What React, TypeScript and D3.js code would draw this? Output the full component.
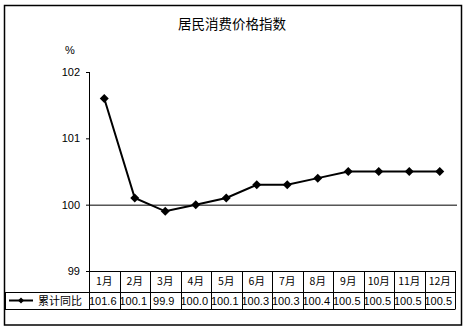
import React from "react";
import * as d3 from "d3";

const months = ["1月", "2月", "3月", "4月", "5月", "6月", "7月", "8月", "9月", "10月", "11月", "12月"];
const values = [101.6, 100.1, 99.9, 100.0, 100.1, 100.3, 100.3, 100.4, 100.5, 100.5, 100.5, 100.5];
const valueLabels = ["101.6", "100.1", "99.9", "100.0", "100.1", "100.3", "100.3", "100.4", "100.5", "100.5", "100.5", "100.5"];
const yTicks = [99, 100, 101, 102];
const seriesName = "累计同比";
const title = "居民消费价格指数";

const W = 467, H = 331;
const left = 89, right = 455, top = 72, bottom = 271;
const row1 = 292, row2 = 309;
const cjk = "'Noto Sans CJK SC', sans-serif";
const latin = "'Liberation Sans', Arial, sans-serif";

function diamond(cx: number, cy: number, r: number) {
  return `M${cx},${cy - r}L${cx + r},${cy}L${cx},${cy + r}L${cx - r},${cy}Z`;
}

export default function App() {
  const x = d3.scaleBand<string>().domain(months).range([left, right]);
  const y = d3.scaleLinear().domain([99, 102]).range([bottom, top]);
  const line = d3.line<number>()
    .x((_, i) => (x(months[i]) as number) + x.bandwidth() / 2)
    .y((d) => y(d));
  const bounds = months.map((m) => x(m) as number).concat([right]);

  return (
    <svg width={W} height={H} style={{ position: "absolute", left: 0, top: 0, background: "#fff" }}>
      <rect x={4.5} y={5.5} width={457} height={319.5} fill="#fff" stroke="#000" strokeWidth={1.5} />
      <text x={232} y={29} textAnchor="middle" fontFamily={cjk} fontSize={13.5} fill="#000">{title}</text>
      <text x={70} y={54} textAnchor="middle" fontFamily={latin} fontSize={11} fill="#000">%</text>
      {yTicks.map((t) => (
        <g key={t}>
          <line x1={left - 3} x2={left} y1={y(t) + 0.5} y2={y(t) + 0.5} stroke="#000" />
          <text x={80} y={y(t) + 4} textAnchor="end" fontFamily={latin} fontSize={11} fill="#000">{t}</text>
        </g>
      ))}
      {/* y axis */}
      <line x1={left + 0.5} x2={left + 0.5} y1={top} y2={row2} stroke="#000" />
      {/* category axis at 100 */}
      <line x1={left} x2={right + 2} y1={y(100) + 0.5} y2={y(100) + 0.5} stroke="#000" />
      {/* data table */}
      <line x1={left} x2={right + 0.5} y1={bottom + 0.5} y2={bottom + 0.5} stroke="#000" />
      <line x1={5} x2={right + 0.5} y1={row1 + 0.5} y2={row1 + 0.5} stroke="#000" />
      <line x1={5} x2={right + 0.5} y1={row2 + 0.5} y2={row2 + 0.5} stroke="#000" />
      <line x1={5.5} x2={5.5} y1={row1} y2={row2} stroke="#000" />
      {bounds.map((b, i) => (
        <line key={i} x1={Math.round(b) + 0.5} x2={Math.round(b) + 0.5} y1={bottom} y2={row2} stroke="#000" />
      ))}
      {months.map((m) => (
        <text key={m} x={(x(m) as number) + x.bandwidth() / 2} y={285} textAnchor="middle" fontFamily={cjk} fontSize={10.5} fill="#000">{m}</text>
      ))}
      {valueLabels.map((v, i) => (
        <text key={i} x={(x(months[i]) as number) + x.bandwidth() / 2 - 1.5} y={304.5} textAnchor="middle" fontFamily={latin} fontSize={11} fill="#000">{v}</text>
      ))}
      {/* legend key */}
      <line x1={9} x2={33} y1={300.5} y2={300.5} stroke="#000" strokeWidth={2} />
      <path d={diamond(21, 300.5, 3)} fill="#000" />
      <text x={38} y={304.5} fontFamily={cjk} fontSize={11} fill="#000">{seriesName}</text>
      {/* series */}
      <path d={line(values) || ""} fill="none" stroke="#000" strokeWidth={2} />
      {values.map((v, i) => (
        <path key={i} d={diamond((x(months[i]) as number) + x.bandwidth() / 2, y(v), 4.5)} fill="#000" />
      ))}
    </svg>
  );
}
